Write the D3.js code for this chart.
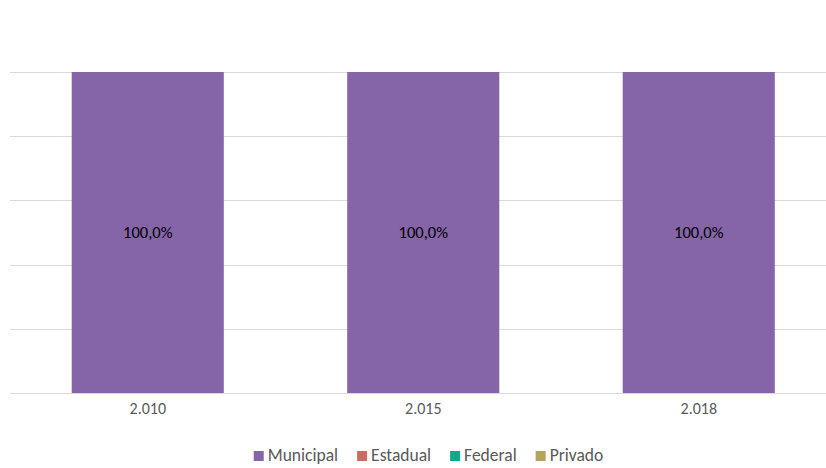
<!DOCTYPE html>
<html>
<head>
<meta charset="utf-8">
<script src="https://cdn.jsdelivr.net/npm/d3@7"></script>
<style>
  body { margin: 0; background: #fff; }
  svg { display: block; font-family: Carlito, Lato, 'Open Sans', sans-serif; }
</style>
</head>
<body>
<div id="chart"></div>
<script>
const years = ['2.010', '2.015', '2.018'];
const seriesNames = ['Municipal', 'Estadual', 'Federal', 'Privado'];
const seriesColors = ['#8564A8', '#C96B5E', '#13A88B', '#B5A55A'];
const municipal = [1, 1, 1];
const estadual = [0, 0, 0];
const federal = [0, 0, 0];
const privado = [0, 0, 0];
const yTicks = [0, 0.2, 0.4, 0.6, 0.8, 1];

const width = 826, height = 468;

const svg = d3.select('#chart').append('svg')
  .attr('width', width)
  .attr('height', height);

const rows = years.map((yr, i) => ({
  year: yr,
  Municipal: municipal[i],
  Estadual: estadual[i],
  Federal: federal[i],
  Privado: privado[i]
}));

const stacked = d3.stack().keys(seriesNames)(rows);

const x = d3.scaleBand()
  .domain(years)
  .range([10, 836.5])
  .paddingInner(0.448)
  .paddingOuter(0.224);

const y = d3.scaleLinear()
  .domain([0, 1])
  .range([393, 72]);

const color = d3.scaleOrdinal().domain(seriesNames).range(seriesColors);

// grid lines
svg.append('g')
  .selectAll('line')
  .data(yTicks)
  .join('line')
  .attr('x1', 10)
  .attr('x2', 826)
  .attr('y1', d => Math.round(y(d)) + 0.5)
  .attr('y2', d => Math.round(y(d)) + 0.5)
  .attr('stroke', '#d9d9d9')
  .attr('stroke-width', 1);

// bars
svg.append('g')
  .selectAll('g')
  .data(stacked)
  .join('g')
  .attr('fill', d => color(d.key))
  .selectAll('rect')
  .data(d => d)
  .join('rect')
  .attr('x', d => x(d.data.year))
  .attr('width', x.bandwidth())
  .attr('y', d => y(d[1]))
  .attr('height', d => y(d[0]) - y(d[1]));

// value labels (only non-zero segments)
svg.append('g')
  .selectAll('text')
  .data(stacked.flatMap(s => s.filter(d => d[1] - d[0] > 0)))
  .join('text')
  .attr('x', d => x(d.data.year) + x.bandwidth() / 2)
  .attr('y', d => (y(d[0]) + y(d[1])) / 2 + 2)
  .attr('text-anchor', 'middle')
  .attr('dominant-baseline', 'middle')
  .attr('font-size', 16.5)
  .attr('fill', '#000')
  .text(d => d3.format('.1%')(d[1] - d[0]).replace('.', ','));

// x axis
const xAxis = svg.append('g')
  .attr('transform', 'translate(0,393)')
  .call(d3.axisBottom(x).tickSize(0).tickPadding(10));
xAxis.select('.domain').remove();
xAxis.selectAll('text')
  .attr('font-size', 16)
  .attr('font-family', 'Carlito, Lato, sans-serif')
  .attr('fill', '#595959');

// legend
const legend = svg.append('g').attr('transform', 'translate(0,456)');
const items = legend.selectAll('g')
  .data(seriesNames)
  .join('g');
items.append('rect')
  .attr('y', -5)
  .attr('width', 10)
  .attr('height', 10)
  .attr('fill', d => color(d));
items.append('text')
  .attr('x', 14)
  .attr('y', 1)
  .attr('dominant-baseline', 'middle')
  .attr('font-size', 17.5)
  .attr('fill', '#595959')
  .text(d => d);

let offset = 0;
const positions = [];
items.each(function () {
  positions.push(offset);
  const w = d3.select(this).select('text').node().getComputedTextLength();
  offset += 14 + w + 19;
});
const total = offset - 19;
const startX = 428.5 - total / 2;
items.attr('transform', (d, i) => `translate(${startX + positions[i]},0)`);
</script>
</body>
</html>
